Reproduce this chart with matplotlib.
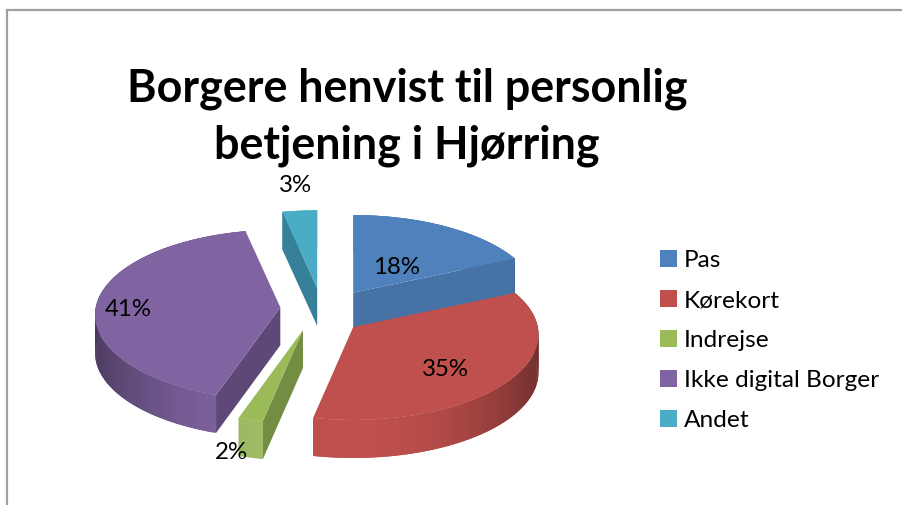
import numpy as np
import matplotlib
matplotlib.use('Agg')
import matplotlib.pyplot as plt

categories = ['Pas', 'Kørekort', 'Indrejse', 'Ikke digital Borger', 'Andet']
# estimated shares, the picture only prints them rounded
values = [18.2, 35.0, 2.0, 41.49, 3.31]
colors = ['#4F81BD', '#C0504D', '#9BBB59', '#8064A2', '#4BACC6']
side_colors = ['#4672A6', '#A94543', '#738D42', '#5E4877', '#37809A']

title_lines = ['Borgere henvist til personlig', 'betjening i Hjørring']

# layout in pixels, slice tips after the explode
apex = [(353.2, 293.7), (353.2, 328.0), (303.0, 331.0), (280.3, 308.3), (317.2, 289.0)]
label_pos = [(397, 268), (445, 370), (231, 453), (128, 309), (295, 185)]
RX, RY = 184.5, 85.3
PERSP = 0.09
DEPTH = 38
DRAW_ORDER = [4, 0, 3, 2, 1]

plt.rcParams['font.family'] = ['Lato', 'DejaVu Sans']


def rim_point(tip, theta):
    # theta clockwise from the top, back of the pie is smaller than the front
    ux, uy = np.sin(theta), -np.cos(theta)
    s = 1 + PERSP * uy
    return tip[0] + RX * ux * s, tip[1] + RY * uy * s


def shaded(color, f):
    rgb = np.array(matplotlib.colors.to_rgb(color))
    return tuple(rgb * f)


fig = plt.figure(figsize=(9.02, 5.06), dpi=100)
ax = fig.add_axes([0, 0, 1, 1])
ax.set_xlim(0, 902)
ax.set_ylim(506, 0)
ax.axis('off')

ax.plot([7, 7, 902], [506, 10.5, 10.5], color='#A0A0A0', lw=1.6, solid_joinstyle='miter')

shares = np.array(values) / sum(values) * 2 * np.pi
ends = np.cumsum(shares)
starts = ends - shares

for i in DRAW_ORDER:
    tip = apex[i]
    thetas = np.linspace(starts[i], ends[i], 160)
    xs, ys = rim_point(tip, thetas)

    # outer wall, darker towards the sides; strips overlap so no seams show
    for j in range(len(thetas) - 1):
        e = min(j + 2, len(thetas) - 1)
        f = 1 - 0.42 * np.sin(thetas[j]) ** 2
        ax.fill([xs[j], xs[e], xs[e], xs[j]],
                [ys[j], ys[e], ys[e] + DEPTH, ys[j] + DEPTH],
                color=shaded(colors[i], f), lw=0)

    # cut faces, only the ones turned towards the viewer
    if np.sin(starts[i]) < 0:
        ax.fill([tip[0], xs[0], xs[0], tip[0]],
                [tip[1], ys[0], ys[0] + DEPTH, tip[1] + DEPTH],
                color=side_colors[i], lw=0)
    if np.sin(ends[i]) > 0:
        ax.fill([tip[0], xs[-1], xs[-1], tip[0]],
                [tip[1], ys[-1], ys[-1] + DEPTH, tip[1] + DEPTH],
                color=side_colors[i], lw=0)

    # top
    ax.fill(np.r_[tip[0], xs], np.r_[tip[1], ys], color=colors[i], lw=0)

for v, (x, y) in zip(values, label_pos):
    ax.text(x, y, f'{v:.0f}%', fontsize=17.3, ha='center', va='center', color='black')

for n, line in enumerate(title_lines):
    ax.text(407, 89 + n * 57, line, fontsize=32.3, fontweight='bold', ha='center', va='center', color='black')

for n, (name, c) in enumerate(zip(categories, colors)):
    y = 259.5 + n * 40
    ax.fill([660, 677, 677, 660], [y - 8.5, y - 8.5, y + 8.5, y + 8.5], color=c, lw=0)
    ax.text(684, y + 1, name, fontsize=17.6, ha='left', va='center', color='black')

fig.savefig('out.png', dpi=100)
